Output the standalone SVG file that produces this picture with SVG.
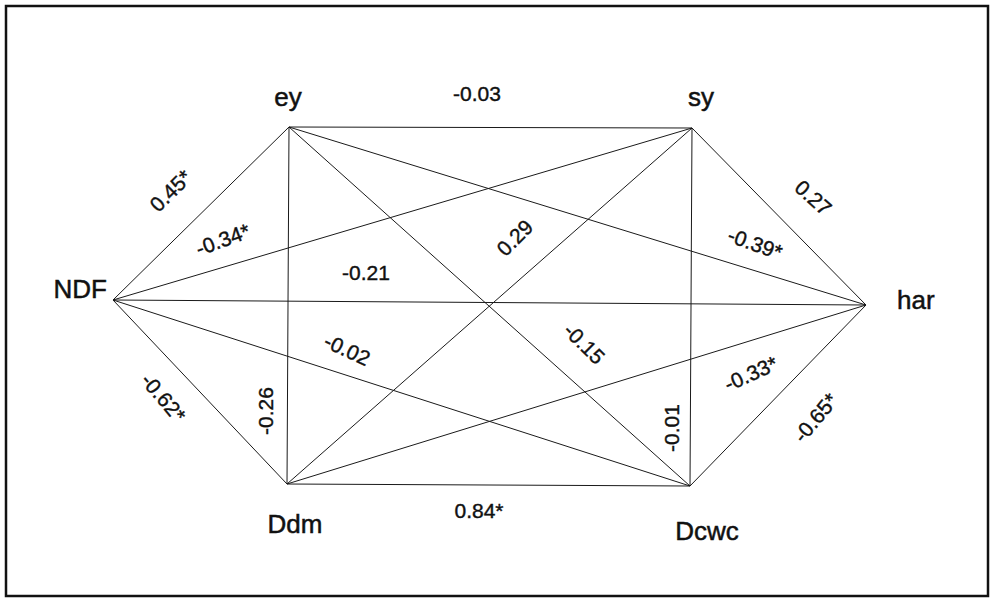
<svg xmlns="http://www.w3.org/2000/svg" width="991" height="599" viewBox="0 0 991 599">
<style>
.edge{stroke:#1a1a1a;stroke-width:1;fill:none}
.node{font-family:"Liberation Sans",Arial,sans-serif;font-size:26px;fill:#111;stroke:#111;stroke-width:0.5}
.lbl{font-family:"Liberation Sans",Arial,sans-serif;font-size:21px;fill:#111;stroke:#111;stroke-width:0.4;text-anchor:middle}
</style>
<rect x="0" y="0" width="991" height="599" fill="#ffffff"/>
<rect x="6" y="6" width="982" height="590" fill="none" stroke="#111" stroke-width="2.5"/>
<g id="connectors">
<line class="edge" x1="113" y1="300" x2="289" y2="127"/>
<line class="edge" x1="113" y1="300" x2="692" y2="128"/>
<line class="edge" x1="113" y1="300" x2="866" y2="305" stroke-width="1.4"/>
<line class="edge" x1="113" y1="300" x2="690" y2="486"/>
<line class="edge" x1="113" y1="300" x2="287" y2="484"/>
<line class="edge" x1="289" y1="127" x2="692" y2="128" stroke-width="1.3"/>
<line class="edge" x1="289" y1="127" x2="866" y2="305"/>
<line class="edge" x1="289" y1="127" x2="690" y2="486"/>
<line class="edge" x1="289" y1="127" x2="287" y2="484" stroke-width="1.3"/>
<line class="edge" x1="692" y1="128" x2="866" y2="305"/>
<line class="edge" x1="692" y1="128" x2="287" y2="484"/>
<line class="edge" x1="692" y1="128" x2="690" y2="486" stroke-width="1.3"/>
<line class="edge" x1="866" y1="305" x2="287" y2="484"/>
<line class="edge" x1="866" y1="305" x2="690" y2="486"/>
<line class="edge" x1="287" y1="484" x2="690" y2="486" stroke-width="1.3"/>
</g>
<g id="edge-labels">
<text class="lbl" transform="translate(171,191) rotate(-45)" y="7">0.45*</text>
<text class="lbl" transform="translate(223,240) rotate(-20)" y="7">-0.34*</text>
<text class="lbl" x="366" y="280">-0.21</text>
<text class="lbl" x="477" y="101">-0.03</text>
<text class="lbl" transform="translate(813,198) rotate(42)" y="7">0.27</text>
<text class="lbl" transform="translate(755,244) rotate(20)" y="7">-0.39*</text>
<text class="lbl" transform="translate(515,238) rotate(-45)" y="7">0.29</text>
<text class="lbl" transform="translate(347,350) rotate(25)" y="7">-0.02</text>
<text class="lbl" transform="translate(163,398) rotate(50)" y="7">-0.62*</text>
<text class="lbl" transform="translate(266,411) rotate(-90)" y="7">-0.26</text>
<text class="lbl" x="479" y="518">0.84*</text>
<text class="lbl" transform="translate(584,344) rotate(45)" y="7">-0.15</text>
<text class="lbl" transform="translate(751,374) rotate(-24)" y="7">-0.33*</text>
<text class="lbl" transform="translate(816,418) rotate(-50)" y="7">-0.65*</text>
<text class="lbl" transform="translate(672,428) rotate(-90)" y="7">-0.01</text>
</g>
<g id="node-ey"><text class="node" x="288" y="106" text-anchor="middle">ey</text></g>
<g id="node-sy"><text class="node" x="701" y="106" text-anchor="middle">sy</text></g>
<g id="node-NDF"><text class="node" x="107" y="298" text-anchor="end">NDF</text></g>
<g id="node-har"><text class="node" x="897" y="309">har</text></g>
<g id="node-Ddm"><text class="node" x="295" y="533" text-anchor="middle">Ddm</text></g>
<g id="node-Dcwc"><text class="node" x="707" y="540" text-anchor="middle">Dcwc</text></g>
</svg>
